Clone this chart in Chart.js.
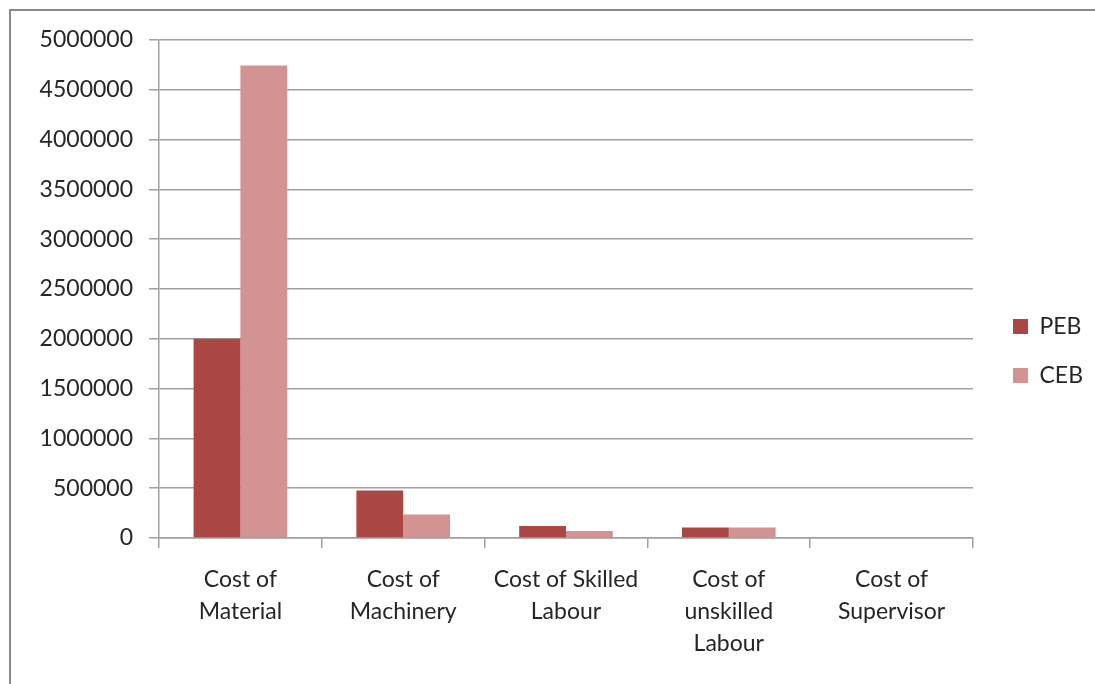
<!DOCTYPE html>
<html>
<head>
<meta charset="utf-8">
<script src="https://cdn.jsdelivr.net/npm/chart.js@4.4.0/dist/chart.umd.min.js"></script>
<style>
html,body{margin:0;padding:0;background:#fff;width:1095px;height:684px;overflow:hidden;}
#frame{position:absolute;left:9px;top:9px;width:1200px;height:800px;border-left:2px solid #8a8a8a;border-top:2px solid #8a8a8a;}
#c{position:absolute;left:0;top:0;}
</style>
</head>
<body>
<div id="frame"></div>
<canvas id="c" width="1095" height="684"></canvas>
<script>
const categories = [
  ["Cost of", "Material"],
  ["Cost of", "Machinery"],
  ["Cost of Skilled", "Labour"],
  ["Cost of", "unskilled", "Labour"],
  ["Cost of", "Supervisor"]
];
const seriesNames = ["PEB", "CEB"];
const pebValues = [2000000, 478000, 120000, 106000, 0];
const cebValues = [4745000, 236000, 70000, 106000, 0];
const yTicks = [0, 500000, 1000000, 1500000, 2000000, 2500000, 3000000, 3500000, 4000000, 4500000, 5000000];

const FONT = "Lato";
const TXT = "#262626";
const GRID = "#a0a0a0";

const legendShift = {
  id: "legendShift",
  afterLayout(chart) {
    const lg = chart.legend;
    if (!lg) return;
    lg.left += 14; lg.right += 14;
    lg.top -= 11; lg.bottom -= 11;
  }
};

new Chart(document.getElementById("c"), {
  type: "bar",
  data: {
    labels: categories,
    datasets: [
      { label: seriesNames[0], data: pebValues, backgroundColor: "#AA4643", borderWidth: 0 },
      { label: seriesNames[1], data: cebValues, backgroundColor: "#D39392", borderWidth: 0 }
    ]
  },
  plugins: [legendShift],
  options: {
    responsive: false,
    animation: false,
    layout: { padding: { left: 0, top: 40, right: 16, bottom: 0 } },
    datasets: { bar: { categoryPercentage: 0.575, barPercentage: 1.0 } },
    plugins: {
      tooltip: { enabled: false },
      legend: {
        position: "right",
        align: "center",
        labels: {
          boxWidth: 15, boxHeight: 15, padding: 26,
          color: TXT,
          font: { family: FONT, size: 23 }
        }
      }
    },
    scales: {
      x: {
        grid: { offset: true, drawOnChartArea: false, drawTicks: true, tickLength: 10, color: GRID, lineWidth: 1.5 },
        border: { display: true, color: GRID, width: 1.5 },
        ticks: { color: TXT, font: { family: FONT, size: 23, lineHeight: 1.4 }, padding: 15, maxRotation: 0, autoSkip: false },
        afterFit: (s) => { s.height = 146; }
      },
      y: {
        min: 0, max: 5000000,
        afterBuildTicks: (s) => { s.ticks = yTicks.map(v => ({ value: v })); },
        grid: { color: GRID, lineWidth: 1.5, tickLength: 10 },
        border: { display: true, color: GRID, width: 1.5 },
        ticks: { color: TXT, font: { family: FONT, size: 23 }, padding: 16, callback: (v) => String(v) },
        afterFit: (s) => { s.width = 159; }
      }
    }
  }
});
</script>
</body>
</html>
